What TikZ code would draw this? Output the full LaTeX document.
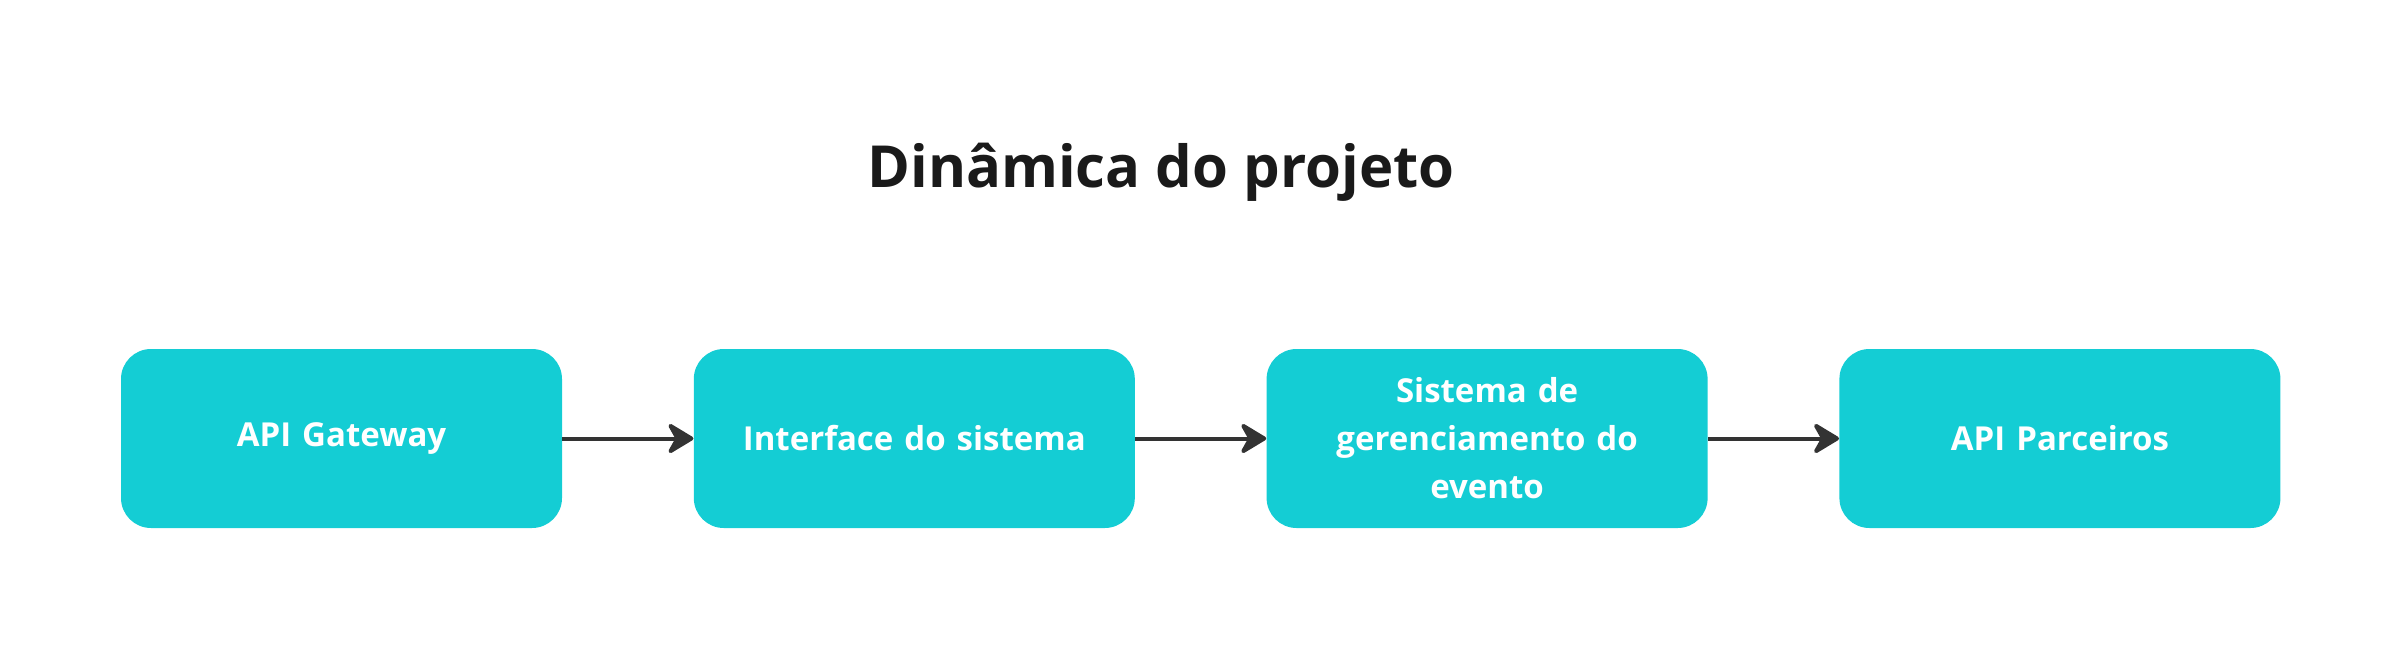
\documentclass[tikz,border=0pt]{standalone}
\usepackage{fontspec}
\setmainfont{Open Sans}
\usetikzlibrary{positioning, arrows.meta}

\definecolor{boxteal}{RGB}{20,205,212}
\definecolor{arrowgray}{RGB}{51,51,51}
\definecolor{titleblack}{RGB}{26,26,26}

\begin{document}
\begin{tikzpicture}[x=1pt, y=1pt,
  stage/.style={rectangle, rounded corners=15pt, fill=boxteal, text=white,
    minimum width=220.5pt, minimum height=89.5pt, text width=205pt, align=center,
    font=\fontsize{16.5}{24}\selectfont\bfseries},
  flow/.style={-{Stealth[length=15pt, width=18pt, inset=5pt, round]}, line width=2pt, arrowgray}]

  % page frame
  \useasboundingbox (0,0) rectangle (1201,325);

  % title
  \node[anchor=base, text=titleblack, font=\fontsize{29}{35}\selectfont\bfseries] (title) at (580.5,231.5) {Dinâmica do projeto};

  % stages of the flow
  \node[stage] (gateway) at (170.75,105.75) {API Gateway};
  \node[stage, right=65.5pt of gateway] (interface) {Interface do sistema};
  \node[stage, right=65.5pt of interface] (gestao) {Sistema de\\gerenciamento do\\evento};
  \node[stage, right=65.5pt of gestao] (parceiros) {API Parceiros};

  % connectors
  \draw[flow] (gateway) -- (interface);
  \draw[flow] (interface) -- (gestao);
  \draw[flow] (gestao) -- (parceiros);
\end{tikzpicture}
\end{document}
